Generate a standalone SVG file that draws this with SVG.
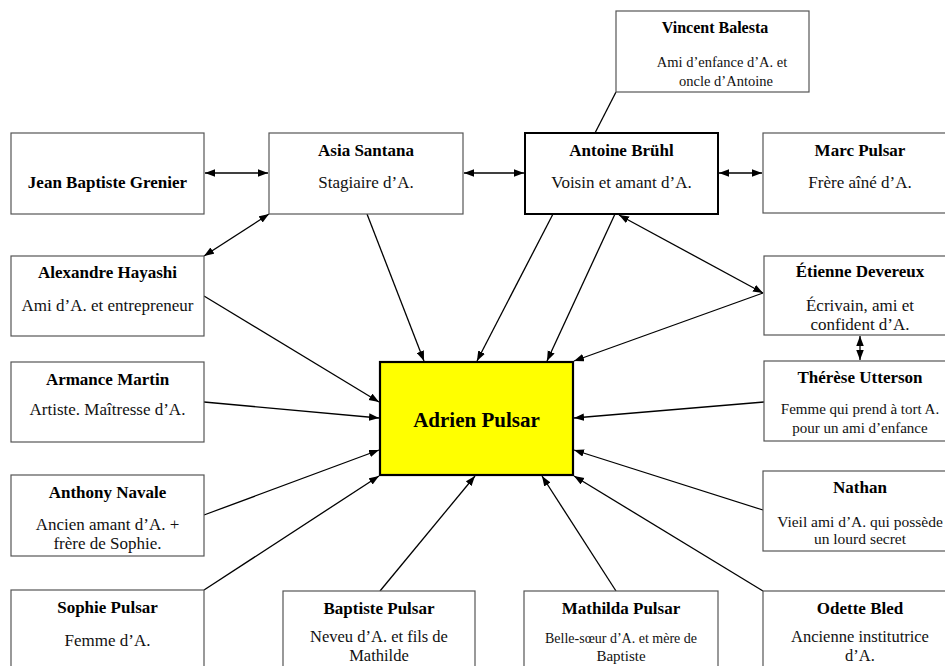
<svg xmlns="http://www.w3.org/2000/svg" width="945" height="666" viewBox="0 0 945 666">
<style>
.box{fill:#fff;stroke:#555;stroke-width:1.2}
.strong{fill:#fff;stroke:#000;stroke-width:2}
.center{fill:#ffff00;stroke:#000;stroke-width:2.2}
.t{font-family:"Liberation Serif","Times New Roman",serif;font-weight:bold;font-size:17px;text-anchor:middle;fill:#000}
.d{font-family:"Liberation Serif","Times New Roman",serif;font-size:17px;text-anchor:middle;fill:#111}
.c{stroke:#000;stroke-width:1.3;fill:none}
</style>
<defs>
<marker id="ah" markerUnits="userSpaceOnUse" markerWidth="11" markerHeight="8" refX="10" refY="3.75" orient="auto-start-reverse">
<path d="M0,0 L10,3.75 L0,7.5 z" fill="#000"/>
</marker>
</defs>
<rect width="945" height="666" fill="#fff"/>
<g id="connectors">
<line class="c" x1="205" y1="173" x2="268" y2="173" marker-start="url(#ah)" marker-end="url(#ah)"/>
<line class="c" x1="464" y1="173" x2="524" y2="173" marker-start="url(#ah)" marker-end="url(#ah)"/>
<line class="c" x1="719" y1="173" x2="762" y2="173" marker-start="url(#ah)" marker-end="url(#ah)"/>
<line class="c" x1="269" y1="214" x2="204" y2="256" marker-start="url(#ah)" marker-end="url(#ah)"/>
<line class="c" x1="616" y1="92" x2="595" y2="133"/>
<line class="c" x1="367" y1="214" x2="424" y2="361" marker-end="url(#ah)"/>
<line class="c" x1="553" y1="214" x2="477" y2="361" marker-end="url(#ah)"/>
<line class="c" x1="615" y1="214" x2="547" y2="361" marker-end="url(#ah)"/>
<line class="c" x1="619" y1="215" x2="763" y2="293" marker-start="url(#ah)" marker-end="url(#ah)"/>
<line class="c" x1="763" y1="293" x2="574" y2="361" marker-end="url(#ah)"/>
<line class="c" x1="860" y1="336" x2="860" y2="360" marker-start="url(#ah)" marker-end="url(#ah)"/>
<line class="c" x1="764" y1="402" x2="574" y2="418" marker-end="url(#ah)"/>
<line class="c" x1="763" y1="510" x2="574" y2="450" marker-end="url(#ah)"/>
<line class="c" x1="763" y1="591" x2="574" y2="476" marker-end="url(#ah)"/>
<line class="c" x1="616" y1="591" x2="542" y2="476" marker-end="url(#ah)"/>
<line class="c" x1="380" y1="591" x2="475" y2="476" marker-end="url(#ah)"/>
<line class="c" x1="204" y1="590" x2="379" y2="476" marker-end="url(#ah)"/>
<line class="c" x1="204" y1="515" x2="379" y2="450" marker-end="url(#ah)"/>
<line class="c" x1="204" y1="402" x2="379" y2="418" marker-end="url(#ah)"/>
<line class="c" x1="204" y1="296" x2="379" y2="402" marker-end="url(#ah)"/>
</g>
<g id="vincent"><rect class="box" x="616" y="11" width="193" height="81"/>
<text class="t" x="715" y="33" style="font-size:16px">Vincent Balesta</text>
<text class="d" x="722" y="67" style="font-size:14.5px">Ami d’enfance d’A. et</text>
<text class="d" x="726" y="86" style="font-size:14.5px">oncle d’Antoine</text></g>
<g id="jbg"><rect class="box" x="11" y="133" width="193" height="81"/>
<text class="t" x="107.5" y="188">Jean Baptiste Grenier</text></g>
<g id="asia"><rect class="box" x="269" y="133" width="194" height="81"/>
<text class="t" x="366" y="156">Asia Santana</text>
<text class="d" x="366" y="188">Stagiaire d’A.</text></g>
<g id="antoine"><rect class="strong" x="525" y="133" width="193" height="81"/>
<text class="t" x="621.5" y="156">Antoine Brühl</text>
<text class="d" x="621.5" y="188">Voisin et amant d’A.</text></g>
<g id="marc"><rect class="box" x="763" y="133" width="193" height="80"/>
<text class="t" x="860" y="156">Marc Pulsar</text>
<text class="d" x="860" y="188">Frère aîné d’A.</text></g>
<g id="alexandre"><rect class="box" x="11" y="256" width="193" height="80"/>
<text class="t" x="107.5" y="278">Alexandre Hayashi</text>
<text class="d" x="107.5" y="311">Ami d’A. et entrepreneur</text></g>
<g id="etienne"><rect class="box" x="764" y="256" width="193" height="79"/>
<text class="t" x="860" y="277">Étienne Devereux</text>
<text class="d" x="860" y="311">Écrivain, ami et</text>
<text class="d" x="860" y="330">confident d’A.</text></g>
<g id="armance"><rect class="box" x="11" y="362" width="193" height="80"/>
<text class="t" x="107.5" y="385">Armance Martin</text>
<text class="d" x="107.5" y="415">Artiste. Maîtresse d’A.</text></g>
<g id="therese"><rect class="box" x="764" y="361" width="193" height="80"/>
<text class="t" x="860" y="383">Thérèse Utterson</text>
<text class="d" x="860" y="414" style="font-size:15px">Femme qui prend à tort A.</text>
<text class="d" x="860" y="433" style="font-size:15px">pour un ami d’enfance</text></g>
<g id="adrien"><rect class="center" x="380" y="362" width="193" height="113"/>
<text class="t" x="476.5" y="427" style="font-size:21px">Adrien Pulsar</text></g>
<g id="anthony"><rect class="box" x="11" y="475" width="193" height="81"/>
<text class="t" x="107.5" y="498">Anthony Navale</text>
<text class="d" x="107.5" y="530">Ancien amant d’A. +</text>
<text class="d" x="107.5" y="549">frère de Sophie.</text></g>
<g id="nathan"><rect class="box" x="763" y="471" width="193" height="80"/>
<text class="t" x="860" y="493">Nathan</text>
<text class="d" x="860" y="527" style="font-size:15.5px">Vieil ami d’A. qui possède</text>
<text class="d" x="860" y="544" style="font-size:15.5px">un lourd secret</text></g>
<g id="sophie"><rect class="box" x="11" y="590" width="193" height="100"/>
<text class="t" x="107.5" y="613">Sophie Pulsar</text>
<text class="d" x="107.5" y="646">Femme d’A.</text></g>
<g id="baptiste"><rect class="box" x="283" y="591" width="192" height="100"/>
<text class="t" x="379" y="614">Baptiste Pulsar</text>
<text class="d" x="379" y="642" style="font-size:16.5px">Neveu d’A. et fils de</text>
<text class="d" x="379" y="661" style="font-size:16.5px">Mathilde</text></g>
<g id="mathilda"><rect class="box" x="524" y="591" width="194" height="100"/>
<text class="t" x="621" y="614">Mathilda Pulsar</text>
<text class="d" x="621" y="643" style="font-size:14px">Belle-sœur d’A. et mère de</text>
<text class="d" x="621" y="661" style="font-size:15px">Baptiste</text></g>
<g id="odette"><rect class="box" x="763" y="591" width="193" height="100"/>
<text class="t" x="860" y="614">Odette Bled</text>
<text class="d" x="860" y="642" style="font-size:16.5px">Ancienne institutrice</text>
<text class="d" x="860" y="661" style="font-size:16.5px">d’A.</text></g>
</svg>
